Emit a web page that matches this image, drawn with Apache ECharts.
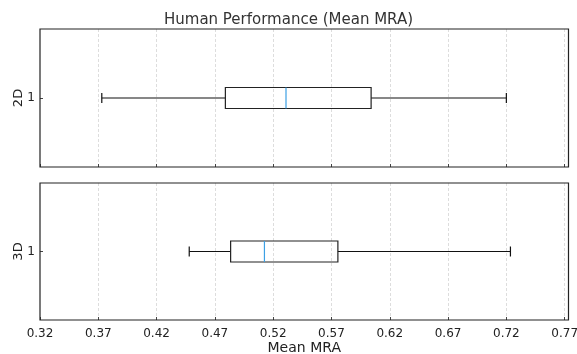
<!DOCTYPE html>
<html>
<head>
<meta charset="utf-8">
<script src="https://cdn.jsdelivr.net/npm/echarts@6/dist/echarts.min.js"></script>
<style>html,body{margin:0;padding:0;background:#fff}#c{width:577px;height:354px}</style>
</head>
<body>
<div id="c"></div>
<script>
const panels = ['2D', '3D'];
const categories = ['1'];
const whiskerLow = [0.373, 0.448];
const q1 = [0.479, 0.4835];
const median = [0.531, 0.5125];
const q3 = [0.604, 0.5755];
const whiskerHigh = [0.720, 0.7235];
const xMin = 0.32, xMax = 0.7733, xStep = 0.05;

const FONT = 'DejaVu Sans';
const chart = echarts.init(document.getElementById('c'), null, {renderer: 'canvas'});

const grids = [
  {left: 40, top: 29, right: 8.5, height: 138},
  {left: 40, top: 183, right: 8.5, height: 137}
].map(g => Object.assign(g, {show: true, borderColor: '#222', borderWidth: 1.2, backgroundColor: 'transparent',
  containLabel: false, outerBoundsMode: 'none', z: 10}));

function xAxisFor(i, showLabels) {
  return {
    type: 'value', gridIndex: i, min: xMin, max: xMax, interval: xStep,
    axisLine: {show: false},
    axisTick: {show: true, inside: true, length: 3, lineStyle: {color: '#444'}},
    axisLabel: {show: showLabels, color: '#222', fontFamily: FONT, fontSize: 12, margin: 8,
      formatter: v => (v > xMax - 0.002 && Math.abs(v - 0.77) > 0.001) ? '' : v.toFixed(2)},
    splitLine: {show: true, showMinLine: false, showMaxLine: false,
      lineStyle: {color: '#d4d4d4', type: [3, 2], width: 0.8}},
    name: showLabels ? 'Mean MRA' : '', nameLocation: 'middle', nameGap: 21,
    nameTextStyle: {color: '#222', fontFamily: FONT, fontSize: 14}
  };
}
function yAxisFor(i) {
  return {
    type: 'category', gridIndex: i, data: categories,
    axisLine: {show: false},
    axisTick: {show: true, inside: true, length: 3, alignWithLabel: true, lineStyle: {color: '#444'}},
    axisLabel: {color: '#222', fontFamily: FONT, fontSize: 12, margin: 5},
    splitLine: {show: true, showMinLine: false, showMaxLine: false,
      lineStyle: {color: '#d4d4d4', type: [3, 2], width: 0.8}},
    name: panels[i], nameLocation: 'middle', nameRotate: 90, nameGap: 15, nameMoveOverlap: false,
    nameTextStyle: {color: '#222', fontFamily: FONT, fontSize: 13}
  };
}

function renderBox(params, api) {
  const cat = api.value(0);
  const lo = api.coord([api.value(1), cat]);
  const b1 = api.coord([api.value(2), cat]);
  const md = api.coord([api.value(3), cat]);
  const b3 = api.coord([api.value(4), cat]);
  const hi = api.coord([api.value(5), cat]);
  const y = lo[1];
  const h = 21, cap = 10;
  const black = {stroke: '#111', lineWidth: 1.2};
  return {
    type: 'group',
    children: [
      {type: 'line', shape: {x1: lo[0], y1: y, x2: b1[0], y2: y}, style: black},
      {type: 'line', shape: {x1: b3[0], y1: y, x2: hi[0], y2: y}, style: black},
      {type: 'line', shape: {x1: lo[0], y1: y - cap / 2, x2: lo[0], y2: y + cap / 2}, style: black},
      {type: 'line', shape: {x1: hi[0], y1: y - cap / 2, x2: hi[0], y2: y + cap / 2}, style: black},
      {type: 'rect', shape: {x: b1[0], y: y - h / 2, width: b3[0] - b1[0], height: h},
        style: {fill: 'transparent', stroke: '#222', lineWidth: 1.2}},
      {type: 'line', shape: {x1: md[0], y1: y - h / 2, x2: md[0], y2: y + h / 2},
        style: {stroke: '#3ca0e4', lineWidth: 1.2}}
    ]
  };
}

const series = panels.map((p, i) => ({
  type: 'custom', name: p, xAxisIndex: i, yAxisIndex: i,
  renderItem: renderBox,
  encode: {x: [1, 2, 3, 4, 5], y: 0},
  data: [[0, whiskerLow[i], q1[i], median[i], q3[i], whiskerHigh[i]]],
  z: 5
}));

chart.setOption({
  animation: false,
  backgroundColor: '#fff',
  title: {text: 'Human Performance (Mean MRA)', left: 'center', top: 8,
    textStyle: {color: '#333', fontFamily: FONT, fontSize: 15, fontWeight: 'normal'}},
  grid: grids,
  xAxis: [xAxisFor(0, false), xAxisFor(1, true)],
  yAxis: [yAxisFor(0), yAxisFor(1)],
  series: series
});
</script>
</body>
</html>
